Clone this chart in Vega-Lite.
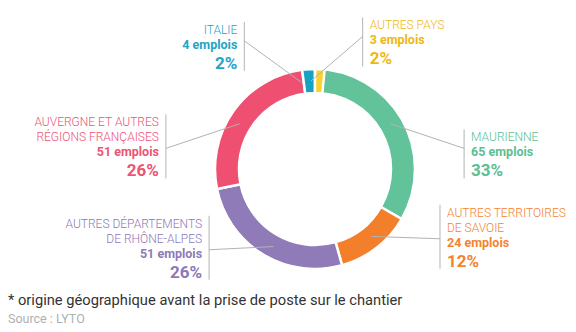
{
  "$schema": "https://vega.github.io/schema/vega-lite/v6.json",
  "width": 522,
  "height": 326,
  "autosize": {"type": "none"},
  "padding": {"left": 54, "top": 6, "right": 0, "bottom": 0},
  "config": {"view": {"stroke": null}, "font": "Roboto"},
  "title": {
    "text": "* origine géographique avant la prise de poste sur le chantier",
    "subtitle": "Source : LYTO",
    "orient": "bottom",
    "anchor": "start",
    "frame": "group",
    "offset": -39,
    "dx": -46,
    "font": "Roboto",
    "fontSize": 14.7,
    "fontWeight": "normal",
    "color": "#333333",
    "subtitleFont": "Roboto",
    "subtitleFontSize": 12.5,
    "subtitleColor": "#b0b0b0",
    "subtitlePadding": 5
  },
  "data": {
    "values": [
      {"key": "maurienne", "name": "MAURIENNE", "n": 65, "emplois": "65 emplois", "pct": "33%", "rank": 1},
      {"key": "savoie", "name": "AUTRES TERRITOIRES\nDE SAVOIE", "n": 24, "emplois": "24 emplois", "pct": "12%", "rank": 2},
      {"key": "rhone", "name": "AUTRES DÉPARTEMENTS\nDE RHÔNE-ALPES", "n": 51, "emplois": "51 emplois", "pct": "26%", "rank": 3},
      {"key": "auvergne", "name": "AUVERGNE ET AUTRES\nRÉGIONS FRANÇAISES", "n": 51, "emplois": "51 emplois", "pct": "26%", "rank": 4},
      {"key": "italie", "name": "ITALIE", "n": 4, "emplois": "4 emplois", "pct": "2%", "rank": 5},
      {"key": "pays", "name": "AUTRES PAYS", "n": 3, "emplois": "3 emplois", "pct": "2%", "rank": 6}
    ]
  },
  "transform": [
    {"joinaggregate": [{"op": "sum", "field": "n", "as": "total"}]},
    {"stack": "n", "groupby": [], "sort": [{"field": "rank", "order": "ascending"}], "as": ["a0", "a1"]}
  ],
  "layer": [
    {
      "mark": {"type": "arc", "outerRadius": 100, "innerRadius": 76, "stroke": "white", "strokeWidth": 2.5},
      "encoding": {
        "theta": {"field": "a0", "type": "quantitative"},
        "theta2": {"field": "a1"},
        "color": {
          "field": "key", "type": "nominal", "legend": null,
          "scale": {
            "domain": ["maurienne", "savoie", "rhone", "auvergne", "italie", "pays"],
            "range": ["#62C39A", "#F47F2B", "#8E7BB7", "#EF5072", "#16A3C2", "#FCD12B"]
          }
        }
      }
    },
    {
      "mark": {"type": "rule", "stroke": "#b3b3b3", "strokeWidth": 1},
      "encoding": {
        "x": {"value": {"expr": "width/2 + 88*sin(PI*(datum.a0+datum.a1)/datum.total)"}},
        "y": {"value": {"expr": "height/2 - 88*cos(PI*(datum.a0+datum.a1)/datum.total)"}},
        "x2": {"value": {"expr": "width/2 + 112*sin(PI*(datum.a0+datum.a1)/datum.total) + (sin(PI*(datum.a0+datum.a1)/datum.total) > -0.1 ? 53 : -53)"}},
        "y2": {"value": {"expr": "height/2 + 5 - (cos(PI*(datum.a0+datum.a1)/datum.total) > 0 ? 130*pow(cos(PI*(datum.a0+datum.a1)/datum.total),3) : 95*cos(PI*(datum.a0+datum.a1)/datum.total)) - 8"}}
      }
    },
    {
      "mark": {"type": "rule", "stroke": "#b3b3b3", "strokeWidth": 1},
      "encoding": {
        "x": {"value": {"expr": "width/2 + 112*sin(PI*(datum.a0+datum.a1)/datum.total) + (sin(PI*(datum.a0+datum.a1)/datum.total) > -0.1 ? 53 : -53)"}},
        "y": {"value": {"expr": "height/2 + 5 - (cos(PI*(datum.a0+datum.a1)/datum.total) > 0 ? 130*pow(cos(PI*(datum.a0+datum.a1)/datum.total),3) : 95*cos(PI*(datum.a0+datum.a1)/datum.total)) - 15*length(split(datum.name, '\\n')) - 12"}},
        "y2": {"value": {"expr": "height/2 + 5 - (cos(PI*(datum.a0+datum.a1)/datum.total) > 0 ? 130*pow(cos(PI*(datum.a0+datum.a1)/datum.total),3) : 95*cos(PI*(datum.a0+datum.a1)/datum.total)) + 22"}}
      }
    },
    {
      "mark": {
        "type": "text", "fontSize": 12, "fontWeight": 300, "baseline": "alphabetic", "lineBreak": "\n", "lineHeight": 15,
        "align": {"expr": "sin(PI*(datum.a0+datum.a1)/datum.total) > -0.1 ? 'left' : 'right'"},
        "x": {"expr": "width/2 + 112*sin(PI*(datum.a0+datum.a1)/datum.total) + (sin(PI*(datum.a0+datum.a1)/datum.total) > -0.1 ? 60 : -60)"},
        "y": {"expr": "height/2 + 5 - (cos(PI*(datum.a0+datum.a1)/datum.total) > 0 ? 130*pow(cos(PI*(datum.a0+datum.a1)/datum.total),3) : 95*cos(PI*(datum.a0+datum.a1)/datum.total)) - 15*length(split(datum.name, '\\n'))"}
      },
      "encoding": {
        "text": {"field": "name"},
        "fill": {
          "field": "key", "type": "nominal", "legend": null,
          "scale": {
            "domain": ["maurienne", "savoie", "rhone", "auvergne", "italie", "pays"],
            "range": ["#5DBE94", "#F48331", "#8C7AB7", "#EE5374", "#22A5C4", "#EDB813"]
          }
        }
      }
    },
    {
      "mark": {
        "type": "text", "fontSize": 12.5, "fontWeight": 700, "baseline": "alphabetic",
        "align": {"expr": "sin(PI*(datum.a0+datum.a1)/datum.total) > -0.1 ? 'left' : 'right'"},
        "x": {"expr": "width/2 + 112*sin(PI*(datum.a0+datum.a1)/datum.total) + (sin(PI*(datum.a0+datum.a1)/datum.total) > -0.1 ? 60 : -60)"},
        "y": {"expr": "height/2 + 5 - (cos(PI*(datum.a0+datum.a1)/datum.total) > 0 ? 130*pow(cos(PI*(datum.a0+datum.a1)/datum.total),3) : 95*cos(PI*(datum.a0+datum.a1)/datum.total))"}
      },
      "encoding": {
        "text": {"field": "emplois"},
        "fill": {"field": "key", "type": "nominal", "legend": null}
      }
    },
    {
      "mark": {
        "type": "text", "fontSize": 17, "fontWeight": 700, "baseline": "alphabetic",
        "align": {"expr": "sin(PI*(datum.a0+datum.a1)/datum.total) > -0.1 ? 'left' : 'right'"},
        "x": {"expr": "width/2 + 112*sin(PI*(datum.a0+datum.a1)/datum.total) + (sin(PI*(datum.a0+datum.a1)/datum.total) > -0.1 ? 60 : -60)"},
        "y": {"expr": "height/2 + 5 - (cos(PI*(datum.a0+datum.a1)/datum.total) > 0 ? 130*pow(cos(PI*(datum.a0+datum.a1)/datum.total),3) : 95*cos(PI*(datum.a0+datum.a1)/datum.total)) + 20"}
      },
      "encoding": {
        "text": {"field": "pct"},
        "fill": {"field": "key", "type": "nominal", "legend": null}
      }
    }
  ]
}
